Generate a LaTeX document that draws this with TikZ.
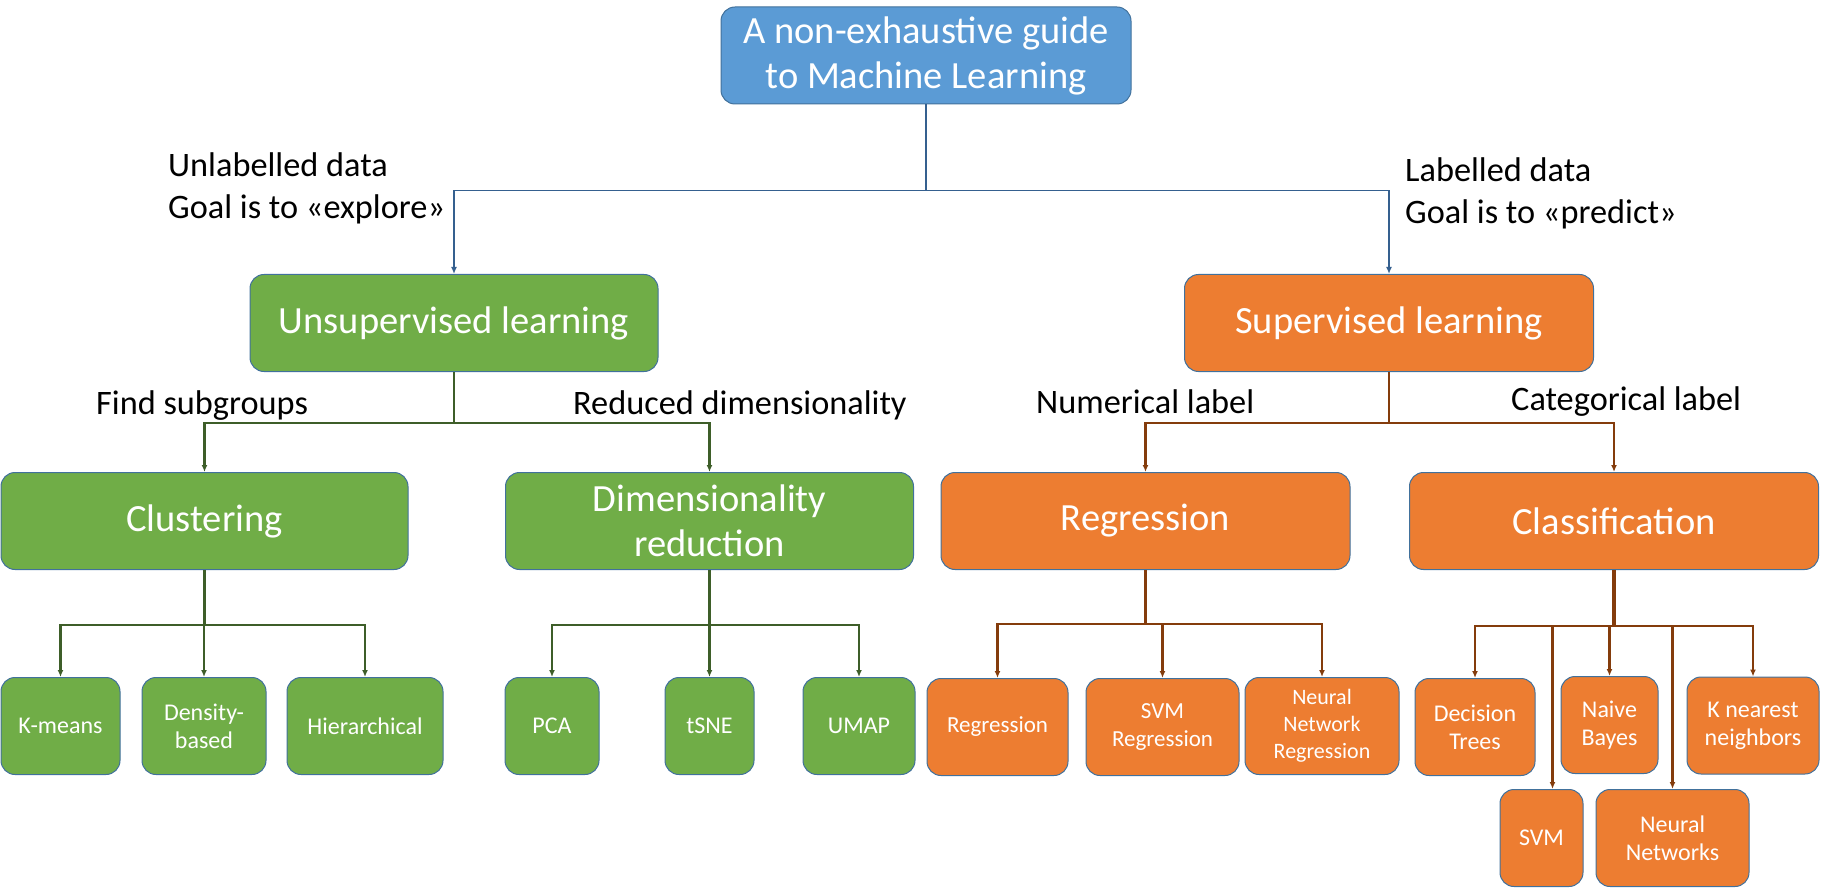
\documentclass[tikz,border=0pt]{standalone}
\usepackage{fontspec}
\setmainfont{Carlito}
\usetikzlibrary{positioning}
\usetikzlibrary{calc}
\usetikzlibrary{arrows.meta}

\definecolor{guideblue}{HTML}{5B9BD5}
\definecolor{unsupgreen}{HTML}{70AD47}
\definecolor{suporange}{HTML}{ED7D31}
\definecolor{outline}{HTML}{41719C}
\definecolor{blueline}{HTML}{35608F}
\definecolor{greenline}{HTML}{3E5E29}
\definecolor{brownline}{HTML}{843C0C}

\tikzset{
  box/.style={draw=outline, line width=1pt, rounded corners=14pt, text=white,
    align=center, inner sep=0pt, minimum height=97pt},
  bigbox/.style={box, font=\fontsize{38.5}{45}\selectfont},
  smallbox/.style={box, font=\fontsize{24}{28}\selectfont},
  leafbox/.style={box, font=\fontsize{23}{27.5}\selectfont},
  caption/.style={anchor=north west, inner sep=0pt, align=left,
    font=\fontsize{34.3}{42}\selectfont},
  link/.style={-{Latex[length=7pt,width=6pt]}, line width=2.2pt}
}

\begin{document}
\begin{tikzpicture}[x=1pt,y=-1pt]
  \useasboundingbox (0,0) rectangle (1823,893);
  \node[bigbox, fill=guideblue, minimum width=410pt] (guide) at (926,55.5)
    {A non-exhaustive guide\\to Machine Learning};
  \node[bigbox, fill=unsupgreen, minimum width=408pt] (unsup) at (454,323) {Unsupervised learning};
  \node[bigbox, fill=suporange, minimum width=409pt] (sup) at (1389,323) {Supervised learning};
  \node[bigbox, fill=unsupgreen, minimum width=407pt] (clust) at (204.5,521) {Clustering};
  \node[bigbox, fill=unsupgreen, minimum width=408pt] (dimred) at (709.5,521) {Dimensionality\\reduction};
  \node[bigbox, fill=suporange, minimum width=409pt] (regr) at (1145.5,521) {Regression};
  \node[bigbox, fill=suporange, minimum width=409pt] (classif) at (1614,521) {Classification};

  \node[smallbox, fill=unsupgreen, minimum width=119pt] (kmeans) at (60.5,726) {K-means};
  \node[smallbox, fill=unsupgreen, minimum width=124pt] (density) at (204,726) {Density-\\based};
  \node[smallbox, fill=unsupgreen, minimum width=156pt] (hier) at (365,726) {Hierarchical};
  \node[smallbox, fill=unsupgreen, minimum width=94pt] (pca) at (552,726) {PCA};
  \node[smallbox, fill=unsupgreen, minimum width=89pt] (tsne) at (709.5,726) {tSNE};
  \node[smallbox, fill=unsupgreen, minimum width=112pt] (umap) at (859,726) {UMAP};
  \node[leafbox, fill=suporange, minimum width=141pt] (regleaf) at (997.5,727) {Regression};
  \node[leafbox, fill=suporange, minimum width=153pt] (svmreg) at (1162.5,727) {SVM\\Regression};
  \node[leafbox, fill=suporange, minimum width=154pt, font=\fontsize{22}{27}\selectfont] (nnreg) at (1322,726)
    {Neural\\Network\\Regression};
  \node[smallbox, fill=suporange, minimum width=120pt] (dtree) at (1475,727) {Decision\\Trees};
  \node[smallbox, fill=suporange, minimum width=97pt] (bayes) at (1609.5,725) {Naive\\Bayes};
  \node[smallbox, fill=suporange, minimum width=132pt] (knn) at (1753,725.5) {K nearest\\neighbors};
  \node[smallbox, fill=suporange, minimum width=83pt] (svm) at (1541.5,838) {SVM};
  \node[smallbox, fill=suporange, minimum width=153pt] (nnet) at (1672.5,838) {Neural\\Networks};

  \node[caption] (unlab) at (168,152) {Unlabelled data\\Goal is to «explore»};
  \node[caption] (lab) at (1405,157) {Labelled data\\Goal is to «predict»};
  \node[caption] (subgr) at (96,390) {Find subgroups};
  \node[caption] (reddim) at (573,390) {Reduced dimensionality};
  \node[caption] (numlab) at (1036,389) {Numerical label};
  \node[caption] (catlab) at (1511,386) {Categorical label};

  \foreach \leaf in {unsup,sup}
    \draw[link, blueline, line width=1.8pt] (guide.south) -- ++(0,86) -| (\leaf.north);
  \foreach \leaf in {clust,dimred}
    \draw[link, greenline] (unsup.south) -- ++(0,51) -| (\leaf.north);
  \foreach \leaf in {kmeans,density,hier}
    \draw[link, greenline, line width=2.6pt] (clust.south) -- ++(0,55) -| (\leaf.north);
  \foreach \leaf in {pca,tsne,umap}
    \draw[link, greenline, line width=2.6pt] (dimred.south) -- ++(0,55) -| (\leaf.north);
  \foreach \leaf in {regr,classif}
    \draw[link, brownline] (sup.south) -- ++(0,51) -| (\leaf.north);
  \draw[brownline, line width=3.6pt] (regr.south) -- ++(0,54);
  \foreach \leaf in {regleaf,svmreg,nnreg}
    \draw[link, brownline] (regr.south) -- ++(0,54) -| (\leaf.north);
  \draw[brownline, line width=3.6pt] (classif.south) -- ++(0,56);
  \foreach \leaf in {dtree,bayes,knn,nnet}
    \draw[link, brownline] (classif.south) -- ++(0,56) -| (\leaf.north);
  \draw[link, brownline] (classif.south) -- ++(0,56) -| ([xshift=11pt]svm.north);
\end{tikzpicture}
\end{document}
